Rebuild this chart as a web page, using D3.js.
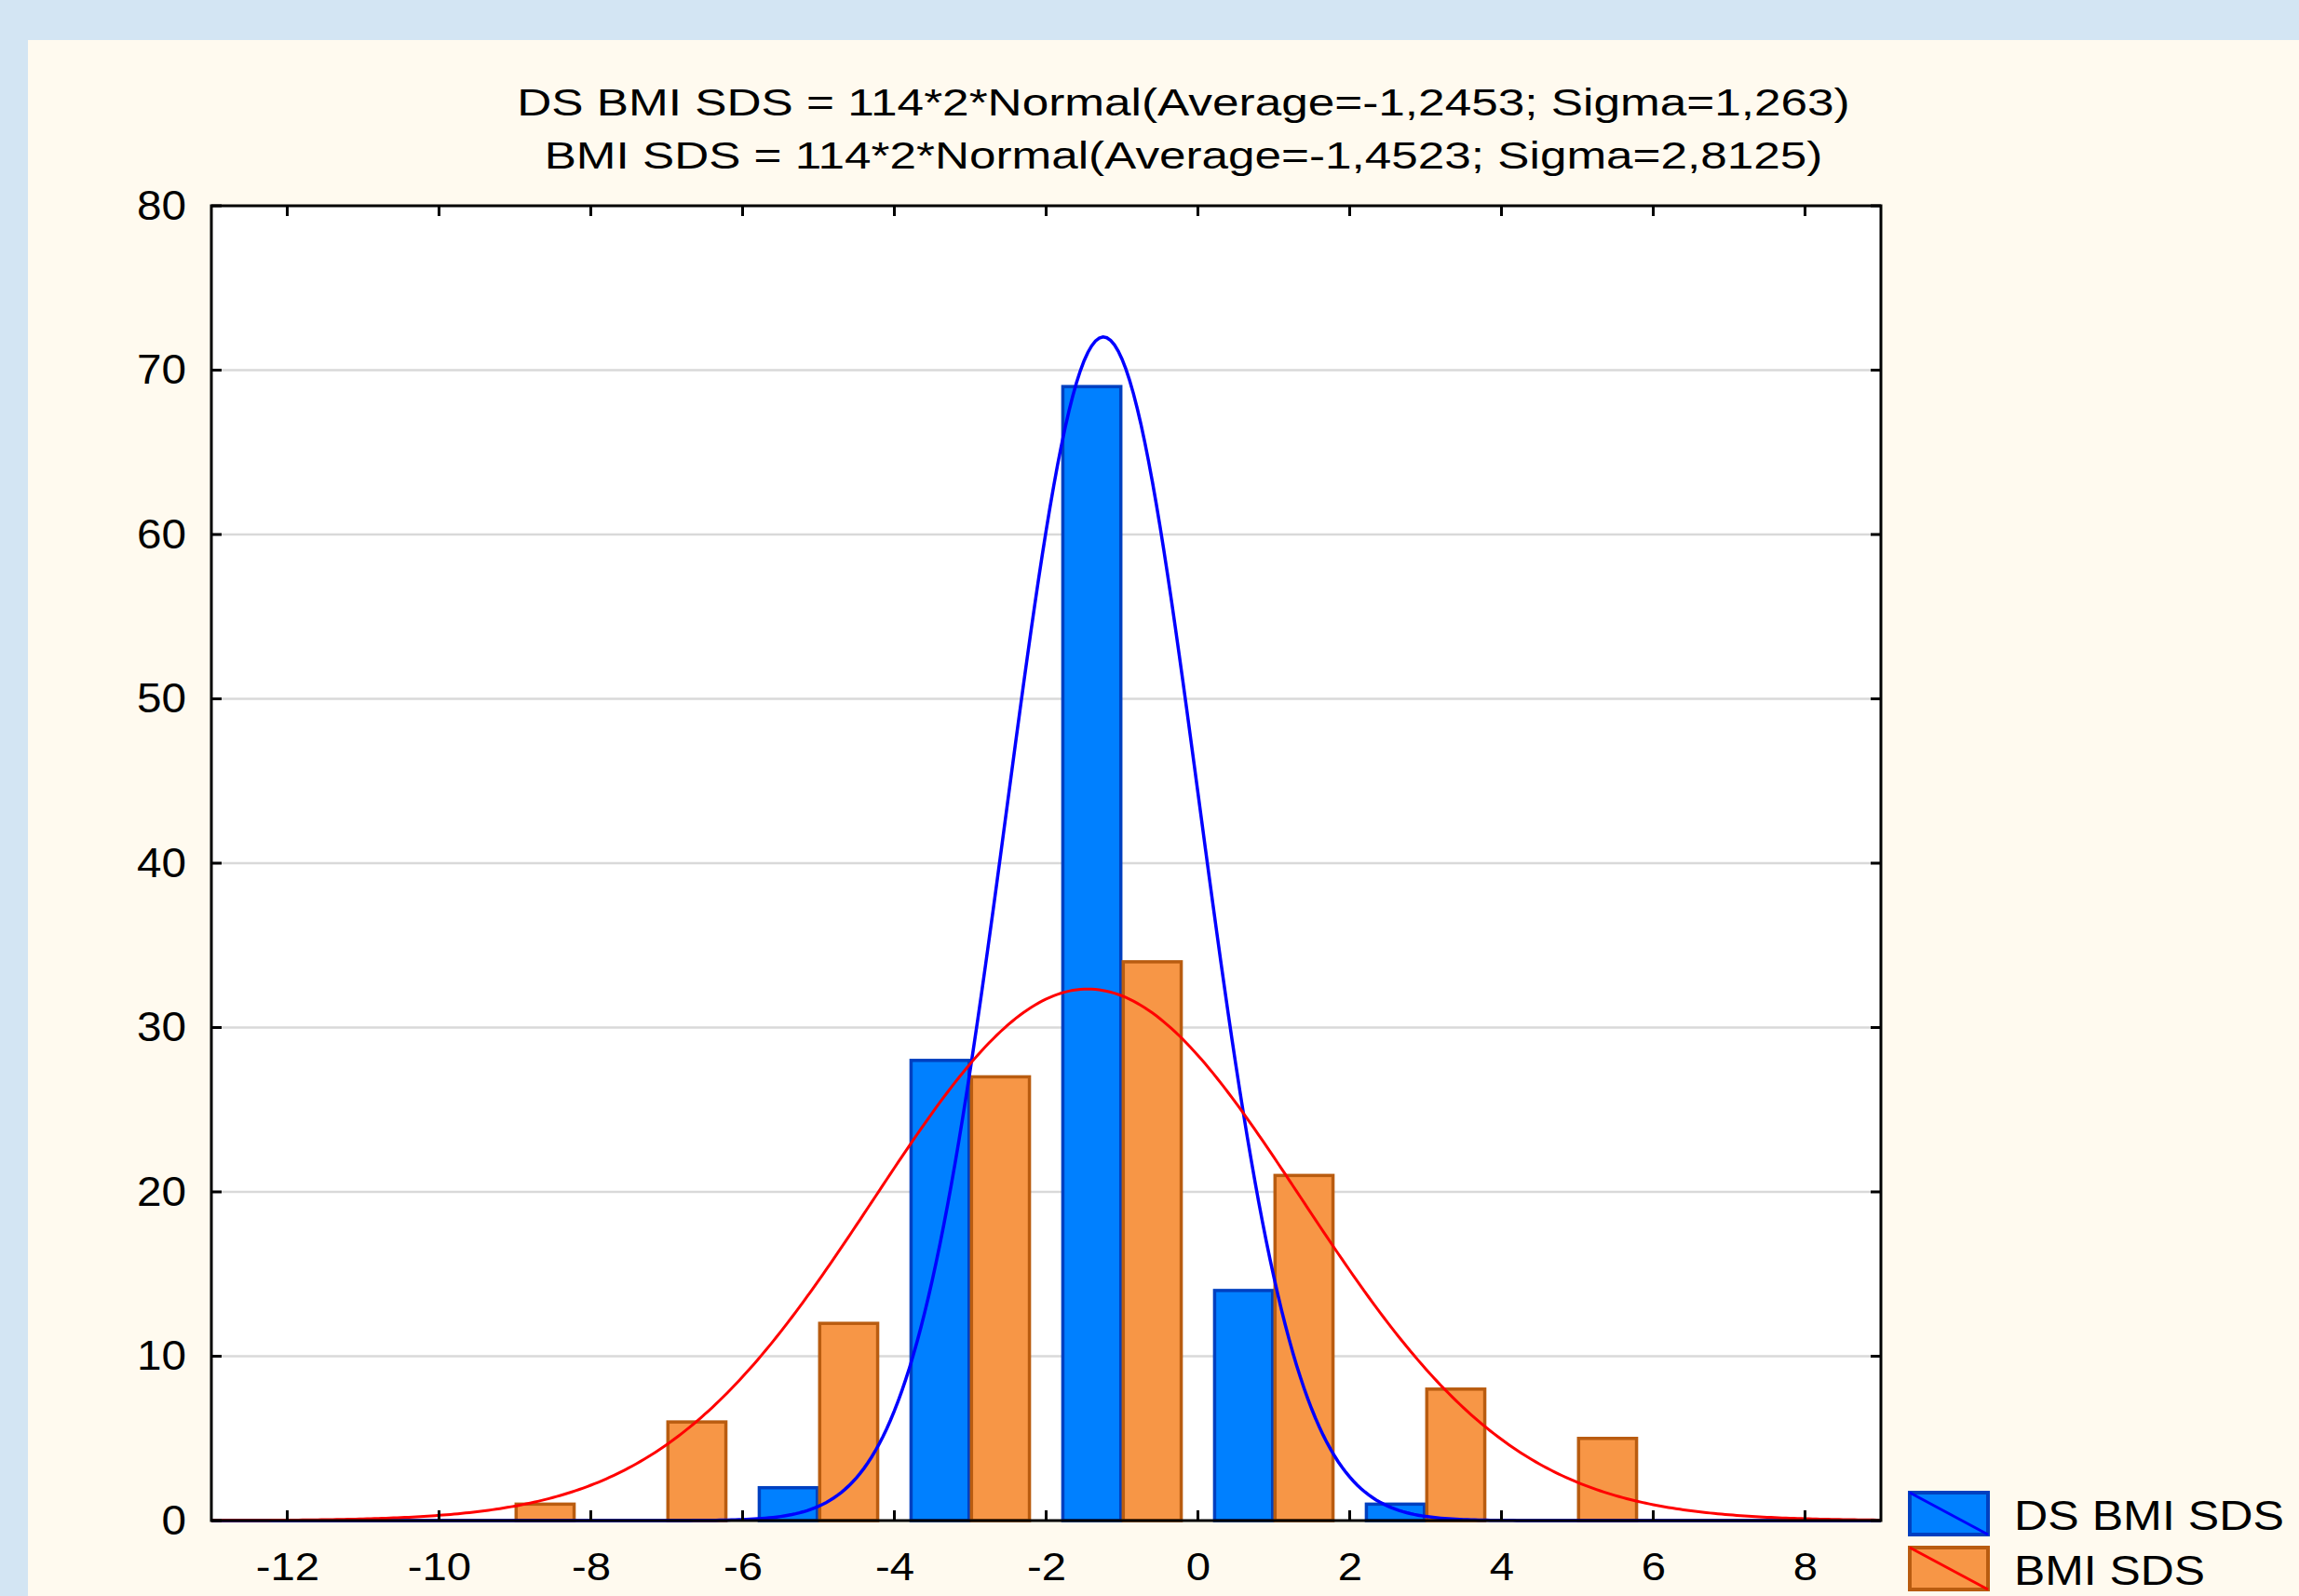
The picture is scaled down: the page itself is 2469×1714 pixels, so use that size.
<!DOCTYPE html>
<html>
<head>
<meta charset="utf-8">
<script src="https://cdn.jsdelivr.net/npm/d3@7"></script>
<style>
  body { margin: 0; background: #d3e5f3; }
  text { font-family: "Liberation Sans", Arial, sans-serif; fill: #000; }
</style>
</head>
<body>
<div id="chart"></div>
<script>
// Histogram bins (centre of each 2-unit bin) and counts per series
const binCenters = [-9, -7, -5, -3, -1, 1, 3, 5];
const dsBmiSds = [0, 0, 2, 28, 69, 14, 1, 0];
const bmiSds = [1, 6, 12, 27, 34, 21, 8, 5];

// Fitted normal curves, as printed in the title
const seriesNames = ["DS BMI SDS", "BMI SDS"];
const fitN = 114;
const binWidth = 2;
const fitMeans = [-1.2453, -1.4523];
const fitSigmas = [1.263, 2.8125];

const titleLines = [
  "DS BMI SDS = 114*2*Normal(Average=-1,2453; Sigma=1,263)",
  "BMI SDS = 114*2*Normal(Average=-1,4523; Sigma=2,8125)"
];
const xTicks = [-12, -10, -8, -6, -4, -2, 0, 2, 4, 6, 8];
const yTicks = [0, 10, 20, 30, 40, 50, 60, 70, 80];

const fills = ["#0080ff", "#f79646"];
const strokes = ["#0040c0", "#b95c10"];
const curveColors = ["#0000ff", "#ff0000"];

const W = 2469, H = 1714;
const margin = { top: 221, left: 227, right: 449, bottom: 81 };
const width = W - margin.left - margin.right;
const height = H - margin.top - margin.bottom;

const svg = d3.select("#chart").append("svg")
    .attr("width", W)
    .attr("height", H);

// cream panel
svg.append("rect")
    .attr("x", 30).attr("y", 43)
    .attr("width", W - 30).attr("height", H - 43)
    .attr("fill", "#fffaef");

// stretch a text horizontally to a given width
function fitWidth(sel, target) {
    const w = sel.node().getComputedTextLength();
    return target / w;
}

// title
const titleY = [124, 181];
const titleW = [1432, 1373];
titleLines.forEach((t, i) => {
    const g = svg.append("g");
    const txt = g.append("text")
        .attr("text-anchor", "middle")
        .attr("font-size", 41)
        .text(t);
    const sx = fitWidth(txt, titleW[i]);
    g.attr("transform", `translate(1271,${titleY[i]}) scale(${sx},1)`);
});

const plot = svg.append("g")
    .attr("transform", `translate(${margin.left},${margin.top})`);

const x = d3.scaleLinear().domain([-13, 9]).range([0, width]);
const y = d3.scaleLinear().domain([0, 80]).range([height, 0]);

plot.append("rect")
    .attr("width", width).attr("height", height)
    .attr("fill", "#fff");

// gridlines
plot.append("g")
    .selectAll("line")
    .data(yTicks.filter(d => d > 0 && d < 80))
    .join("line")
    .attr("x1", 0).attr("x2", width)
    .attr("y1", d => y(d)).attr("y2", d => y(d))
    .attr("stroke", "#d9d9d9")
    .attr("stroke-width", 2.5);

// bars
const inner = d3.scaleBand()
    .domain([0, 1])
    .range([x(-0.78) - x(0), x(0.78) - x(0)])
    .paddingInner(0.04);

const series = [dsBmiSds, bmiSds];
series.forEach((vals, s) => {
    plot.append("g")
        .selectAll("rect")
        .data(binCenters.map((c, i) => ({ c, v: vals[i] })).filter(d => d.v > 0))
        .join("rect")
        .attr("x", d => x(d.c) + inner(s))
        .attr("width", inner.bandwidth())
        .attr("y", d => y(d.v))
        .attr("height", d => y(0) - y(d.v))
        .attr("fill", fills[s])
        .attr("stroke", strokes[s])
        .attr("stroke-width", 3.5);
});

// fitted normal curves
plot.append("clipPath").attr("id", "clip")
    .append("rect").attr("width", width).attr("height", height + 2);

const xs = d3.range(-13, 9.001, 0.05);
fitMeans.forEach((m, s) => {
    const sd = fitSigmas[s];
    const dens = v => fitN * binWidth * Math.exp(-0.5 * ((v - m) / sd) ** 2) / (sd * Math.sqrt(2 * Math.PI));
    const line = d3.line()
        .x(d => x(d))
        .y(d => y(dens(d)));
    plot.append("path")
        .datum(xs)
        .attr("clip-path", "url(#clip)")
        .attr("fill", "none")
        .attr("stroke", curveColors[s])
        .attr("stroke-width", s === 0 ? 3.5 : 3)
        .attr("d", line);
});

// frame
plot.append("rect")
    .attr("width", width).attr("height", height)
    .attr("fill", "none")
    .attr("stroke", "#000")
    .attr("stroke-width", 3);

// inner ticks on all four sides
const tk = 11;
const ticks = plot.append("g").attr("stroke", "#000").attr("stroke-width", 3);
xTicks.forEach(t => {
    ticks.append("line").attr("x1", x(t)).attr("x2", x(t)).attr("y1", 0).attr("y2", tk);
    ticks.append("line").attr("x1", x(t)).attr("x2", x(t)).attr("y1", height - tk).attr("y2", height);
});
yTicks.forEach(t => {
    ticks.append("line").attr("y1", y(t)).attr("y2", y(t)).attr("x1", 0).attr("x2", tk);
    ticks.append("line").attr("y1", y(t)).attr("y2", y(t)).attr("x1", width - tk).attr("x2", width);
});

// axes labels
const xAxis = plot.append("g")
    .attr("transform", `translate(0,${height})`)
    .call(d3.axisBottom(x).tickValues(xTicks).tickSize(0).tickFormat(d3.format("d")));
xAxis.select(".domain").remove();
xAxis.selectAll("text")
    .attr("y", 64).attr("dy", 0)
    .attr("font-size", 43)
    .attr("font-family", null)
    .attr("fill", "#000")
    .attr("transform", "scale(1.1,1)")
    .text(d => d < 0 ? "-" + Math.abs(d) : d);

const yAxis = plot.append("g")
    .call(d3.axisLeft(y).tickValues(yTicks).tickSize(0));
yAxis.select(".domain").remove();
yAxis.selectAll("text")
    .attr("x", -27 / 1.06)
    .attr("dy", "0.32em")
    .attr("font-size", 45)
    .attr("font-family", null)
    .attr("fill", "#000")
    .attr("transform", "scale(1.06,1)");

// legend
const legendY = [1603, 1662];
const legendTextW = [290, 205];
seriesNames.forEach((name, s) => {
    const g = svg.append("g").attr("transform", `translate(2051,${legendY[s]})`);
    g.append("rect")
        .attr("width", 84).attr("height", 45)
        .attr("fill", fills[s])
        .attr("stroke", strokes[s])
        .attr("stroke-width", 4);
    g.append("line")
        .attr("x1", 0).attr("y1", 0).attr("x2", 84).attr("y2", 45)
        .attr("stroke", curveColors[s])
        .attr("stroke-width", 3);
    const tg = svg.append("g");
    const txt = tg.append("text")
        .attr("font-size", 44)
        .text(name);
    const sx = fitWidth(txt, legendTextW[s]);
    tg.attr("transform", `translate(2163,${legendY[s] + 40}) scale(${sx},1)`);
});
</script>
</body>
</html>
